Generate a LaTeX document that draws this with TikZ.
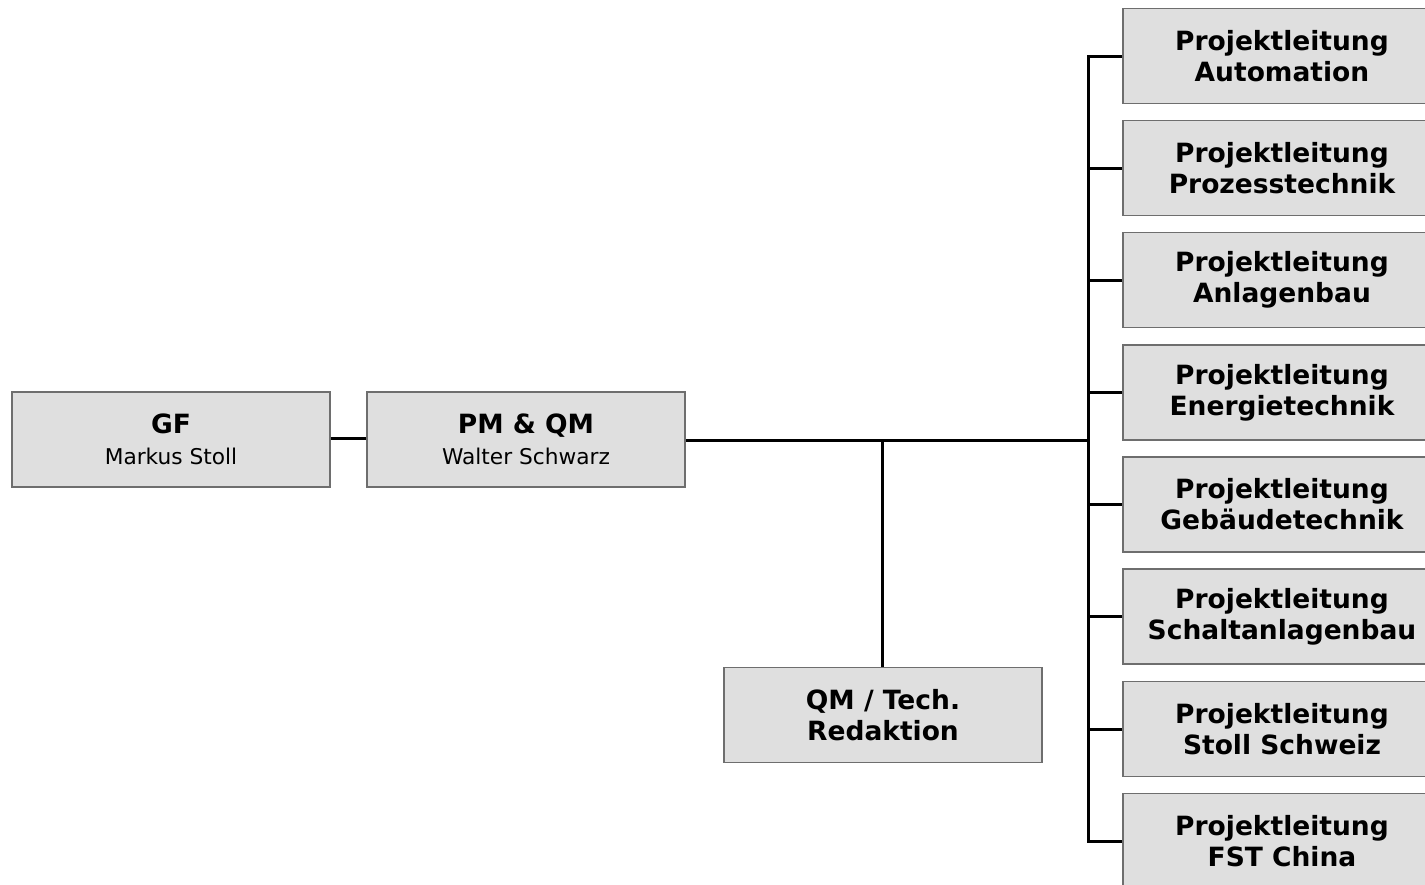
\documentclass[tikz,border=0pt]{standalone}
\usepackage{fontspec}
\setmainfont{DejaVu Sans}
\definecolor{boxfill}{HTML}{DFDFDF}
\definecolor{boxline}{HTML}{6E6E6E}
\tikzset{
  orgbox/.style={draw=boxline, line width=1.5pt, fill=boxfill, minimum width=318pt, minimum height=95pt, inner sep=0pt, align=center, font=\fontsize{26.5}{31}\selectfont\bfseries},
  conn/.style={draw=black, line width=3pt}
}
\newcommand{\subname}[1]{{\fontsize{21.7}{22}\selectfont\mdseries #1}}
\begin{document}
\begin{tikzpicture}[x=1pt,y=-1pt]
\clip (0,0) rectangle (1425,884);
\fill[white] (0,0) rectangle (1425,884);
\node[orgbox] (gf) at (171,439.5) {GF\\\subname{Markus Stoll}};
\node[orgbox] (pm) at (526,439.5) {PM \& QM\\\subname{Walter Schwarz}};
\node[orgbox] (qm) at (883,715) {QM / Tech.\\Redaktion};
\node[orgbox] (p1) at (1282,56) {Projektleitung\\Automation};
\node[orgbox] (p2) at (1282,168) {Projektleitung\\Prozesstechnik};
\node[orgbox] (p3) at (1282,280) {Projektleitung\\Anlagenbau};
\node[orgbox] (p4) at (1282,392.5) {Projektleitung\\Energietechnik};
\node[orgbox] (p5) at (1282,504.5) {Projektleitung\\Gebäudetechnik};
\node[orgbox] (p6) at (1282,616.5) {Projektleitung\\Schaltanlagenbau};
\node[orgbox] (p7) at (1282,729) {Projektleitung\\Stoll Schweiz};
\node[orgbox] (p8) at (1282,841) {Projektleitung\\FST China};
\coordinate (jr) at (1088,440);
\coordinate (jq) at (882,440);
\coordinate (top) at (1088,56);
\coordinate (bot) at (1088,841);
\draw[conn] (gf.east |- 0,438) -- (pm.west |- 0,438);
\draw[conn] (pm.east |- jr) -- (jr);
\draw[conn] (jq) -- (qm.north -| jq);
\draw[conn, line cap=rect] (top) -- (bot);
\foreach \p in {p1,p2,p3,p4,p5,p6,p7,p8}{
  \draw[conn] (jr |- \p.west) -- (\p.west);
}
\end{tikzpicture}
\end{document}
